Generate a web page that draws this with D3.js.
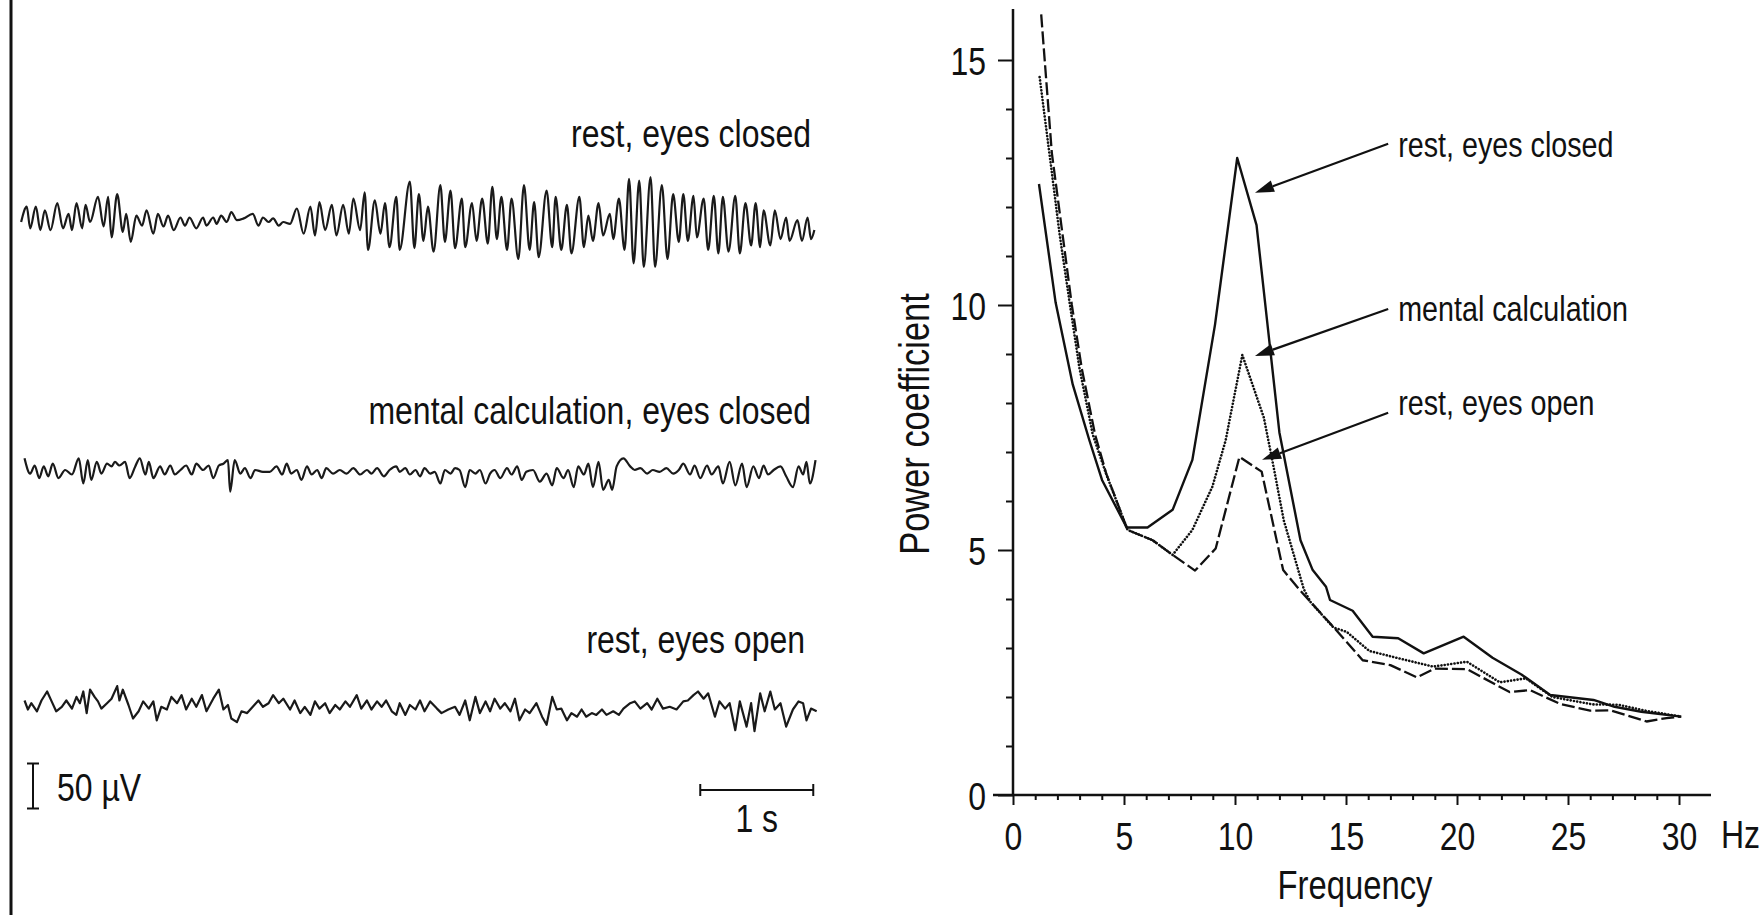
<!DOCTYPE html>
<html>
<head>
<meta charset="utf-8">
<script src="https://cdn.jsdelivr.net/npm/d3@7"></script>
<style>
  html, body { margin: 0; padding: 0; background: #fff; }
  svg text { font-family: "Liberation Sans", Arial, sans-serif; fill: #111; }
</style>
</head>
<body>
<div id="chart"></div>
<script>
// ---- EEG traces: [time (s), amplitude (µV)] at the peaks/troughs ----
const traceRestClosed = [[0.01,0],[0.06,17],[0.09,-7],[0.14,17],[0.18,-9],[0.22,13],[0.27,-9],[0.33,21],[0.38,-7],[0.43,9],[0.46,-9],[0.50,21],[0.55,-7],[0.58,19],[0.62,0],[0.69,28],[0.74,-5],[0.78,28],[0.81,-17],[0.86,31],[0.91,-11],[0.94,9],[0.98,-22],[1.03,7],[1.08,-4],[1.12,13],[1.18,-13],[1.22,9],[1.27,-5],[1.31,7],[1.36,-9],[1.42,5],[1.46,-4],[1.50,5],[1.56,-7],[1.62,5],[1.65,-4],[1.71,5],[1.74,-2],[1.78,7],[1.83,0],[1.87,11],[1.92,2],[1.98,4],[2.06,9],[2.11,-4],[2.15,5],[2.20,0],[2.24,4],[2.29,-4],[2.33,0],[2.39,-2],[2.45,15],[2.51,-13],[2.57,17],[2.61,-15],[2.65,22],[2.70,-9],[2.76,19],[2.80,-15],[2.86,19],[2.91,-13],[2.95,26],[3.01,-9],[3.05,33],[3.08,-31],[3.14,24],[3.19,-13],[3.23,21],[3.27,-28],[3.33,28],[3.36,-31],[3.45,45],[3.49,-29],[3.53,31],[3.57,-21],[3.61,17],[3.66,-33],[3.72,41],[3.76,-22],[3.81,35],[3.85,-29],[3.91,26],[3.94,-28],[4.00,21],[4.04,-21],[4.09,26],[4.14,-24],[4.18,39],[4.22,-19],[4.26,28],[4.31,-31],[4.35,26],[4.41,-41],[4.46,41],[4.51,-31],[4.55,22],[4.59,-39],[4.66,35],[4.71,-28],[4.74,28],[4.79,-31],[4.84,19],[4.88,-35],[4.95,28],[4.99,-28],[5.03,7],[5.07,-21],[5.12,21],[5.16,-15],[5.22,9],[5.25,-19],[5.30,26],[5.35,-31],[5.39,48],[5.43,-46],[5.48,46],[5.52,-50],[5.58,50],[5.62,-50],[5.68,41],[5.73,-41],[5.78,31],[5.83,-22],[5.87,31],[5.91,-21],[5.96,29],[5.99,-17],[6.05,26],[6.09,-31],[6.14,29],[6.18,-35],[6.22,28],[6.27,-33],[6.33,29],[6.37,-35],[6.42,21],[6.47,-26],[6.51,21],[6.55,-28],[6.58,13],[6.64,-26],[6.68,13],[6.73,-19],[6.78,5],[6.81,-21],[6.88,2],[6.92,-21],[6.97,5],[7.00,-19],[7.03,-9]];

const traceMental = [[0.04,13],[0.09,-4],[0.13,5],[0.17,-9],[0.21,4],[0.25,-7],[0.29,7],[0.34,-9],[0.40,0],[0.46,-5],[0.52,13],[0.56,-15],[0.60,11],[0.63,-11],[0.68,9],[0.72,-4],[0.77,7],[0.81,4],[0.84,9],[0.88,5],[0.93,9],[0.97,-9],[1.02,4],[1.06,13],[1.11,-5],[1.14,9],[1.18,-9],[1.24,4],[1.28,-5],[1.33,5],[1.37,-5],[1.42,0],[1.47,5],[1.52,-5],[1.56,7],[1.62,0],[1.67,5],[1.71,-9],[1.76,5],[1.80,7],[1.84,11],[1.86,-24],[1.90,11],[1.95,-4],[1.99,2],[2.04,-9],[2.08,0],[2.15,-2],[2.21,-2],[2.27,4],[2.32,-5],[2.36,7],[2.40,-4],[2.45,0],[2.49,-11],[2.54,4],[2.58,-5],[2.63,0],[2.67,-9],[2.71,2],[2.77,-4],[2.83,0],[2.89,-4],[2.95,2],[3.01,-5],[3.07,0],[3.11,-4],[3.16,2],[3.22,-7],[3.27,0],[3.33,4],[3.36,-2],[3.41,2],[3.45,-5],[3.50,0],[3.54,-7],[3.58,2],[3.63,-4],[3.67,-2],[3.72,-15],[3.76,0],[3.81,-4],[3.85,2],[3.89,0],[3.94,-19],[3.98,0],[4.03,-4],[4.07,0],[4.12,-15],[4.16,-4],[4.20,0],[4.25,-9],[4.31,2],[4.35,-5],[4.40,4],[4.44,-11],[4.48,-2],[4.54,0],[4.60,-13],[4.66,-4],[4.71,-17],[4.75,2],[4.81,-9],[4.85,0],[4.90,-19],[4.94,4],[4.99,-5],[5.03,7],[5.07,-19],[5.12,9],[5.16,-22],[5.21,-11],[5.24,-22],[5.28,4],[5.34,13],[5.40,4],[5.44,0],[5.49,2],[5.55,-4],[5.60,0],[5.66,-2],[5.72,2],[5.78,-4],[5.83,0],[5.87,7],[5.93,-5],[5.97,5],[6.02,-9],[6.08,5],[6.12,-5],[6.18,4],[6.22,-15],[6.28,9],[6.33,-17],[6.39,7],[6.43,-19],[6.49,4],[6.54,-9],[6.58,5],[6.62,-5],[6.67,0],[6.73,4],[6.78,-7],[6.84,-19],[6.89,4],[6.93,-5],[6.96,9],[6.99,-15],[7.04,11]];

const traceRestOpen = [[0.04,5],[0.07,-5],[0.10,2],[0.15,-7],[0.19,5],[0.24,15],[0.28,4],[0.32,-7],[0.37,-2],[0.41,5],[0.46,-4],[0.50,9],[0.53,2],[0.56,15],[0.59,-9],[0.62,17],[0.66,9],[0.69,4],[0.72,-4],[0.77,2],[0.81,7],[0.86,21],[0.88,5],[0.91,17],[0.96,0],[1.00,-15],[1.05,-7],[1.09,4],[1.14,-4],[1.18,4],[1.21,-17],[1.25,-2],[1.30,-5],[1.34,9],[1.39,2],[1.43,11],[1.47,-5],[1.52,7],[1.56,-2],[1.61,11],[1.65,-7],[1.71,7],[1.76,17],[1.80,-5],[1.84,0],[1.87,-15],[1.92,-19],[1.96,-7],[2.01,-9],[2.06,-2],[2.11,5],[2.15,-2],[2.20,2],[2.24,11],[2.29,2],[2.33,7],[2.39,-5],[2.43,5],[2.48,-9],[2.52,-2],[2.57,-11],[2.61,4],[2.65,-4],[2.70,2],[2.74,-9],[2.79,0],[2.83,-5],[2.88,4],[2.92,-2],[2.98,11],[3.02,-4],[3.07,5],[3.11,-5],[3.16,4],[3.20,-2],[3.24,5],[3.29,-7],[3.33,-11],[3.36,2],[3.41,-11],[3.45,0],[3.50,-5],[3.54,5],[3.58,-7],[3.63,4],[3.69,-4],[3.73,-9],[3.79,-5],[3.85,-2],[3.89,-11],[3.94,5],[3.98,-17],[4.03,9],[4.07,-9],[4.12,4],[4.16,-7],[4.20,7],[4.25,-4],[4.29,2],[4.34,-7],[4.38,7],[4.42,-17],[4.47,-5],[4.51,-9],[4.57,2],[4.62,-13],[4.66,-22],[4.71,9],[4.75,-5],[4.79,-4],[4.84,-17],[4.88,-9],[4.93,-13],[4.97,-5],[5.01,-13],[5.06,-9],[5.10,-11],[5.15,-5],[5.19,-11],[5.25,-7],[5.30,-11],[5.34,-4],[5.40,2],[5.44,4],[5.49,-4],[5.55,2],[5.59,-5],[5.64,7],[5.69,-4],[5.75,-2],[5.81,-5],[5.87,4],[5.91,5],[5.96,11],[6.00,15],[6.05,7],[6.09,13],[6.15,-13],[6.19,4],[6.24,-4],[6.28,2],[6.33,-28],[6.37,4],[6.43,-24],[6.47,2],[6.50,-29],[6.55,13],[6.59,-7],[6.64,15],[6.68,-5],[6.73,2],[6.78,-24],[6.84,-5],[6.89,4],[6.93,2],[6.96,-17],[7.00,-4],[7.05,-7]];

const traceLabels = ["rest, eyes closed", "mental calculation, eyes closed", "rest, eyes open"];
const scaleVoltage = 50;   // µV
const scaleTime = 1;       // s

// ---- power spectra: [frequency (Hz), power coefficient] ----
const specRestClosed = [[1.17,12.47],[1.92,10.05],[2.69,8.38],[3.44,7.24],[4.01,6.43],[5.12,5.46],[6.06,5.46],[7.19,5.82],[8.08,6.84],[9.1,9.6],[10.1,13.0],[10.97,11.63],[12.0,7.4],[12.95,5.2],[13.5,4.59],[14.1,4.25],[14.28,3.98],[15.3,3.76],[16.2,3.23],[17.35,3.2],[18.5,2.89],[20.3,3.23],[21.6,2.8],[22.9,2.46],[24.2,2.04],[26.15,1.94],[27.1,1.8],[28.3,1.7],[30.1,1.6]];
const specMental = [[1.2,14.65],[1.72,12.81],[2.1,11.44],[2.54,10.08],[2.99,8.72],[3.59,7.36],[4.19,6.56],[5.16,5.41],[6.29,5.2],[7.19,4.9],[8.08,5.41],[8.98,6.29],[9.58,7.24],[10.33,8.98],[11.3,7.7],[11.65,6.9],[12.2,5.6],[13.1,4.2],[13.4,3.94],[14.43,3.42],[15.03,3.33],[16.05,2.94],[17.28,2.8],[18.93,2.62],[20.45,2.72],[21.93,2.3],[23.1,2.38],[24.3,2.0],[26.1,1.85],[27.3,1.84],[28.5,1.72],[30.1,1.6]];
const specRestOpen = [[1.27,15.93],[1.75,13.1],[2.2,11.55],[2.65,10.0],[3.1,8.7],[3.7,7.35],[4.2,6.56],[5.16,5.41],[6.29,5.2],[7.19,4.9],[8.2,4.58],[9.13,5.03],[10.2,6.9],[11.2,6.6],[12.17,4.59],[12.92,4.18],[14.43,3.43],[15.75,2.75],[17.0,2.65],[18.2,2.4],[19.0,2.58],[20.44,2.57],[22.37,2.1],[23.29,2.14],[24.64,1.86],[26.0,1.72],[26.9,1.73],[28.54,1.5],[29.44,1.57],[30.1,1.6]];

const specLabels = ["rest, eyes closed", "mental calculation", "rest, eyes open"];
// arrow annotations in data units: arrow start, arrow tip, label anchor
const arrowStarts = [[16.9,13.29],[16.9,9.92],[16.9,7.8]];
const arrowTips = [[10.9,12.29],[10.9,8.96],[11.22,6.84]];
const labelAnchors = [[17.35,13.02],[17.35,9.67],[17.35,7.75]];

const xMajorTicks = [0, 5, 10, 15, 20, 25, 30];
const yMajorTicks = [0, 5, 10, 15];

// ---------------------------------------------------------------
const width = 1761, height = 915;
const ink = "#111";
const squeeze = 0.82;   // narrow face, the way the figure's lettering is set

const svg = d3.select("#chart")
    .append("svg")
    .attr("width", width)
    .attr("height", height);

function narrowText(parent, x, y, str, size, anchor, rotate) {
    return parent.append("text")
        .attr("transform", `translate(${x},${y})${rotate ? " rotate(" + rotate + ")" : ""} scale(${squeeze},1)`)
        .attr("text-anchor", anchor || "start")
        .style("font-size", size + "px")
        .text(str);
}

// left panel ------------------------------------------------------
svg.append("line")
    .attr("x1", 11).attr("x2", 11)
    .attr("y1", 0).attr("y2", height)
    .attr("stroke", ink)
    .attr("stroke-width", 3);

const xTime = d3.scaleLinear().domain([0, 7]).range([20, 811]);
const pxPerUV = 0.9;
const traceMids = [222, 470, 705];
const traceData = [traceRestClosed, traceMental, traceRestOpen];
const traceCurves = [d3.curveMonotoneX, d3.curveMonotoneX, d3.curveLinear];
const labelRight = [811, 811, 805];
const labelBase = [147, 424, 653];

traceData.forEach((data, i) => {
    const yAmp = d3.scaleLinear()
        .domain([-60, 60])
        .range([traceMids[i] + 60 * pxPerUV, traceMids[i] - 60 * pxPerUV]);
    const line = d3.line()
        .x(d => xTime(d[0]))
        .y(d => yAmp(d[1]))
        .curve(traceCurves[i]);
    svg.append("path")
        .datum(data)
        .attr("d", line)
        .attr("fill", "none")
        .attr("stroke", "#1a1a1a")
        .attr("stroke-width", 2.2)
        .attr("stroke-linejoin", "round");
    narrowText(svg, labelRight[i], labelBase[i], traceLabels[i], 39, "end");
});

// calibration bars
const calMid = 786;
const yCal = d3.scaleLinear().domain([0, scaleVoltage]).range([calMid + scaleVoltage * pxPerUV / 2, calMid - scaleVoltage * pxPerUV / 2]);
const calX = 33;
const cal = svg.append("g").attr("stroke", ink).attr("stroke-width", 2);
cal.append("line").attr("x1", calX).attr("x2", calX).attr("y1", yCal(0)).attr("y2", yCal(scaleVoltage));
cal.append("line").attr("x1", calX - 6).attr("x2", calX + 6).attr("y1", yCal(0)).attr("y2", yCal(0));
cal.append("line").attr("x1", calX - 6).attr("x2", calX + 6).attr("y1", yCal(scaleVoltage)).attr("y2", yCal(scaleVoltage));
narrowText(svg, 57, 801, scaleVoltage + " µV", 39);

const tEnd = 7.02, barY = 790;
cal.append("line").attr("x1", xTime(tEnd - scaleTime)).attr("x2", xTime(tEnd)).attr("y1", barY).attr("y2", barY);
cal.append("line").attr("x1", xTime(tEnd - scaleTime)).attr("x2", xTime(tEnd - scaleTime)).attr("y1", barY - 6).attr("y2", barY + 6);
cal.append("line").attr("x1", xTime(tEnd)).attr("x2", xTime(tEnd)).attr("y1", barY - 6).attr("y2", barY + 6);
narrowText(svg, xTime(tEnd - scaleTime / 2), 832, scaleTime + " s", 39, "middle");

// right panel -----------------------------------------------------
const x = d3.scaleLinear().domain([0, 30]).range([1013, 1679]);
const y = d3.scaleLinear().domain([0, 16]).range([795, 11]);

const plot = svg.append("g");

// y axis
const yMajor = plot.append("g")
    .attr("transform", `translate(${x(0)},0)`)
    .call(d3.axisLeft(y).tickValues(yMajorTicks).tickSize(15).tickPadding(12).tickSizeOuter(0));
const yMinor = plot.append("g")
    .attr("transform", `translate(${x(0)},0)`)
    .call(d3.axisLeft(y).tickValues(d3.range(1, 15).filter(v => v % 5)).tickSize(7).tickFormat(""));

// x axis
const xMajor = plot.append("g")
    .attr("transform", `translate(0,${y(0)})`)
    .call(d3.axisBottom(x).tickValues(xMajorTicks).tickSize(10).tickPadding(17).tickSizeOuter(0));
const xMinor = plot.append("g")
    .attr("transform", `translate(0,${y(0)})`)
    .call(d3.axisBottom(x).tickValues(d3.range(1, 30).filter(v => v % 5)).tickSize(5).tickFormat(""));

[yMajor, yMinor, xMajor, xMinor].forEach(g => {
    g.select(".domain").remove();
    g.selectAll(".tick line").attr("stroke", ink).attr("stroke-width", 2);
    g.selectAll(".tick text")
        .style("font-size", "39px")
        .style("font-family", null)
        .attr("fill", ink)
        .attr("transform", `scale(${squeeze},1)`);
});
yMajor.selectAll(".tick text").attr("dy", "0.36em").attr("x", -27 / squeeze);

plot.append("line")
    .attr("x1", x(0)).attr("x2", x(0))
    .attr("y1", y(0)).attr("y2", 9)
    .attr("stroke", ink).attr("stroke-width", 2.5);
plot.append("line")
    .attr("x1", 993).attr("x2", 1711)
    .attr("y1", y(0)).attr("y2", y(0))
    .attr("stroke", ink).attr("stroke-width", 2.5);

narrowText(plot, 1721, 848, "Hz", 39);
narrowText(plot, 1355, 899, "Frequency", 40, "middle");
narrowText(plot, 929, 424, "Power coefficient", 42, "middle", -90);

// spectra
const specLine = d3.line().x(d => x(d[0])).y(d => y(d[1]));
const specSeries = [
    { data: specRestOpen, dash: "13,4", cap: "butt", w: 2.3 },
    { data: specMental, dash: "0.1,3.2", cap: "round", w: 2.6 },
    { data: specRestClosed, dash: null, cap: "butt", w: 2.4 }
];
specSeries.forEach(s => {
    plot.append("path")
        .datum(s.data)
        .attr("d", specLine)
        .attr("fill", "none")
        .attr("stroke", ink)
        .attr("stroke-width", s.w)
        .attr("stroke-linecap", s.cap)
        .attr("stroke-linejoin", "round")
        .attr("stroke-dasharray", s.dash);
});

// annotations
arrowTips.forEach((tip, i) => {
    const x0 = x(arrowStarts[i][0]), y0 = y(arrowStarts[i][1]);
    const x1 = x(tip[0]), y1 = y(tip[1]);
    const ang = Math.atan2(y1 - y0, x1 - x0);
    const len = 19, half = 6;
    const bx = x1 - len * Math.cos(ang), by = y1 - len * Math.sin(ang);
    plot.append("line")
        .attr("x1", x0).attr("y1", y0)
        .attr("x2", bx).attr("y2", by)
        .attr("stroke", ink).attr("stroke-width", 2.2);
    plot.append("polygon")
        .attr("points", [
            [x1, y1],
            [bx + half * Math.sin(ang), by - half * Math.cos(ang)],
            [bx - half * Math.sin(ang), by + half * Math.cos(ang)]
        ].map(p => p.join(",")).join(" "))
        .attr("fill", ink);
    narrowText(plot, x(labelAnchors[i][0]), y(labelAnchors[i][1]), specLabels[i], 35);
});
</script>
</body>
</html>
